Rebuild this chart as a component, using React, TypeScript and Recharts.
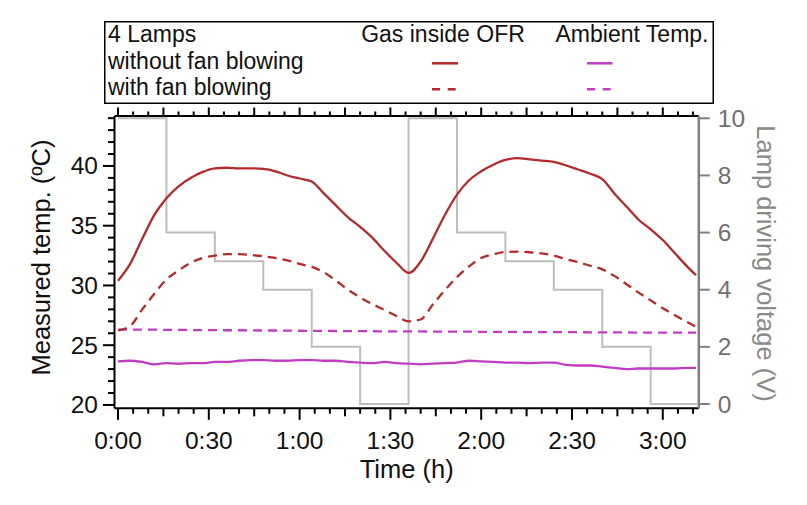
import React from 'react';
import { LineChart, Line, XAxis, YAxis, Legend } from 'recharts';

const FONT = '"Liberation Sans", Arial, Helvetica, sans-serif';
const RED = '#b52a2b';
const MAGENTA = '#c23cc4';
const LAMP_GRAY = '#bdbdbd';
const AXIS_GRAY = '#808080';

// time in minutes
const timeMin = [0, 4, 8, 12, 16, 20, 24, 28, 32, 36, 40, 44, 48, 52, 56, 60, 64, 68, 72, 76, 80, 84, 88, 92, 96, 100, 104, 108, 112, 116, 120, 124, 128, 132, 136, 140, 144, 148, 152, 156, 160, 164, 168, 172, 176, 180, 184, 188, 191];

const gasNoFan = [30.4, 31.8, 33.9, 35.9, 37.3, 38.3, 39.0, 39.5, 39.8, 39.85, 39.8, 39.8, 39.75, 39.55, 39.2, 38.95, 38.7, 37.7, 36.7, 35.7, 34.9, 34.0, 32.9, 31.9, 31.05, 32.0, 33.9, 35.9, 37.6, 38.8, 39.55, 40.1, 40.5, 40.65, 40.55, 40.45, 40.35, 40.05, 39.7, 39.35, 38.9, 37.7, 36.6, 35.5, 34.7, 33.8, 32.7, 31.6, 30.85];

const gasFan = [26.25, 26.6, 28.0, 29.3, 30.5, 31.25, 31.9, 32.3, 32.5, 32.62, 32.62, 32.55, 32.45, 32.3, 32.1, 31.8, 31.55, 31.1, 30.4, 29.65, 29.0, 28.45, 27.95, 27.45, 27.0, 27.15, 28.4, 29.6, 30.7, 31.6, 32.3, 32.6, 32.8, 32.83, 32.78, 32.68, 32.5, 32.2, 31.95, 31.65, 31.35, 30.8, 30.1, 29.4, 28.75, 28.1, 27.5, 26.95, 26.55];

const ambNoFan = [23.65, 23.7, 23.6, 23.4, 23.5, 23.45, 23.5, 23.5, 23.6, 23.6, 23.7, 23.75, 23.75, 23.7, 23.7, 23.75, 23.75, 23.7, 23.7, 23.6, 23.55, 23.5, 23.6, 23.5, 23.45, 23.4, 23.45, 23.5, 23.55, 23.7, 23.65, 23.6, 23.55, 23.55, 23.5, 23.55, 23.55, 23.35, 23.3, 23.3, 23.2, 23.1, 23.0, 23.05, 23.05, 23.05, 23.05, 23.1, 23.1];

const ambFan = [26.3, 26.3, 26.3, 26.3, 26.28, 26.28, 26.27, 26.27, 26.26, 26.25, 26.25, 26.24, 26.23, 26.23, 26.22, 26.21, 26.2, 26.2, 26.19, 26.18, 26.18, 26.17, 26.16, 26.16, 26.15, 26.15, 26.14, 26.14, 26.13, 26.13, 26.12, 26.12, 26.11, 26.11, 26.1, 26.1, 26.1, 26.09, 26.09, 26.08, 26.08, 26.07, 26.07, 26.06, 26.06, 26.06, 26.05, 26.05, 26.05];

// lamp driving voltage steps
const stepTimes = [0, 16, 32, 48, 64, 80, 96, 112, 128, 144, 160, 176, 191.3];
const lampVoltage = [10, 6, 5, 4, 2, 0, 10, 6, 5, 4, 2, 0, 0];

// ticks
const xTicks = [0, 5, 10, 15, 20, 25, 30, 35, 40, 45, 50, 55, 60, 65, 70, 75, 80, 85, 90, 95, 100, 105, 110, 115, 120, 125, 130, 135, 140, 145, 150, 155, 160, 165, 170, 175, 180, 185, 190];
const xLabelTimes = [0, 30, 60, 90, 120, 150, 180];
const xLabels = ['0:00', '0:30', '1:00', '1:30', '2:00', '2:30', '3:00'];
const tempTicks = [20, 21, 22, 23, 24, 25, 26, 27, 28, 29, 30, 31, 32, 33, 34, 35, 36, 37, 38, 39, 40, 41, 42, 43, 44];
const tempLabels = [20, 25, 30, 35, 40];
const voltTicks = [0, 2, 4, 6, 8, 10];

const tempData = timeMin.map((t, i) => ({
  t,
  gasNoFan: gasNoFan[i],
  gasFan: gasFan[i],
  ambNoFan: ambNoFan[i],
  ambFan: ambFan[i],
}));
const lampData = stepTimes.map((t, i) => ({ t, v: lampVoltage[i] }));

const W = 790;
const H = 480;
const TICK_FS = 24.5;

const BottomTick = (props: any) => {
  const { x, y, payload } = props;
  const v = payload.value;
  const len = v % 30 === 0 ? 11.5 : v % 15 === 0 ? 8 : 5.5;
  const idx = xLabelTimes.indexOf(v);
  return (
    <g>
      <line x1={x} x2={x} y1={y} y2={y + len} stroke="#000" strokeWidth={2} />
      {idx >= 0 && (
        <text x={x} y={y + 40.5} textAnchor="middle" fontSize={TICK_FS} fontFamily={FONT} fill="#111">
          {xLabels[idx]}
        </text>
      )}
    </g>
  );
};

const TopTick = (props: any) => {
  const { x, y, payload } = props;
  const v = payload.value;
  const len = v % 15 === 0 ? 8.5 : 4.5;
  return <line x1={x} x2={x} y1={y} y2={y - len} stroke="#000" strokeWidth={2} />;
};

const LeftTick = (props: any) => {
  const { x, y, payload } = props;
  const v = payload.value;
  const major = tempLabels.indexOf(v) >= 0;
  const len = major ? 11.5 : 6.5;
  return (
    <g>
      <line x1={x} x2={x - len} y1={y} y2={y} stroke="#000" strokeWidth={2} />
      {major && (
        <text x={x - 16.5} y={y + 8.5} textAnchor="end" fontSize={TICK_FS} fontFamily={FONT} fill="#111">
          {v}
        </text>
      )}
    </g>
  );
};

const RightTick = (props: any) => {
  const { x, y, payload } = props;
  return (
    <g>
      <line x1={x} x2={x + 11} y1={y} y2={y} stroke={AXIS_GRAY} strokeWidth={2} />
      <text x={x + 19} y={y + 8.5} textAnchor="start" fontSize={TICK_FS} fontFamily={FONT} fill="#707070">
        {payload.value}
      </text>
    </g>
  );
};

const XTitle = (props: any) => {
  const vb = props.viewBox || {};
  return (
    <text x={vb.x + vb.width / 2} y={470} textAnchor="middle" fontSize={25.5} fontFamily={FONT} fill="#111">
      Time (h)
    </text>
  );
};

const LeftTitle = () => (
  <text transform="translate(33,249.5) rotate(-90)" textAnchor="middle" dy="0.35em" fontSize={25.5} fontFamily={FONT} fill="#111">
    Measured temp. (ºC)
  </text>
);

const RightTitle = () => (
  <text transform="translate(758,255.5) rotate(90)" textAnchor="middle" dy="0.35em" fontSize={25.5} fontFamily={FONT} fill="#8a8a8a">
    Lamp driving voltage (V)
  </text>
);

const LegendBox = () => (
  <svg width={610} height={83} style={{ display: 'block' }}>
    <rect x={0.75} y={0.75} width={608.5} height={81.5} fill="#fff" stroke="#000" strokeWidth={1.5} />
    <g fontFamily={FONT} fontSize={23} fill="#111">
      <text x={4} y={21}>4 Lamps</text>
      <text x={4} y={47.5}>without fan blowing</text>
      <text x={4} y={73.5}>with fan blowing</text>
      <text x={339} y={21} textAnchor="middle">Gas inside OFR</text>
      <text x={528} y={21} textAnchor="middle">Ambient Temp.</text>
    </g>
    <line x1={328} x2={354} y1={42.3} y2={42.3} stroke={RED} strokeWidth={2.5} />
    <line x1={328} x2={352} y1={68.3} y2={68.3} stroke={RED} strokeWidth={2.5} strokeDasharray="8 7.7" />
    <line x1={483} x2={508.5} y1={42.3} y2={42.3} stroke={MAGENTA} strokeWidth={2.5} />
    <line x1={483} x2={507} y1={68.3} y2={68.3} stroke={MAGENTA} strokeWidth={2.5} strokeDasharray="8 7.7" />
  </svg>
);

export default function App() {
  return (
    <div style={{ width: W, height: H }}>
      <LineChart width={W} height={H} data={tempData} margin={{ top: 107, right: 9.2, bottom: 19.7, left: 0 }}>
        <XAxis
          dataKey="t"
          type="number"
          domain={[-1.16, 191.9]}
          allowDataOverflow
          ticks={xTicks}
          interval={0}
          tickSize={0}
          tickMargin={0}
          tickLine={false}
          tick={<BottomTick />}
          height={60}
          axisLine={{ stroke: '#000', strokeWidth: 2 }}
          label={<XTitle />}
        />
        <XAxis
          xAxisId="top"
          dataKey="t"
          type="number"
          orientation="top"
          domain={[-1.16, 191.9]}
          allowDataOverflow
          ticks={xTicks}
          interval={0}
          tickSize={0}
          tickMargin={0}
          tickLine={false}
          tick={<TopTick />}
          height={1}
          axisLine={{ stroke: '#000', strokeWidth: 2 }}
        />
        <YAxis
          yAxisId="left"
          type="number"
          domain={[19.72, 44.18]}
          allowDataOverflow
          ticks={tempTicks}
          interval={0}
          tickSize={0}
          tickMargin={0}
          tickLine={false}
          tick={<LeftTick />}
          width={106.5}
          axisLine={{ stroke: '#000', strokeWidth: 2 }}
          label={<LeftTitle />}
        />
        <YAxis
          yAxisId="right"
          orientation="right"
          type="number"
          domain={[-0.15, 10.08]}
          allowDataOverflow
          ticks={voltTicks}
          interval={0}
          tickSize={0}
          tickMargin={0}
          tickLine={false}
          tick={<RightTick />}
          width={90}
          axisLine={{ stroke: AXIS_GRAY, strokeWidth: 2.5 }}
          label={<RightTitle />}
        />
        <Legend
          layout="vertical"
          align="center"
          verticalAlign="middle"
          wrapperStyle={{ position: 'absolute', left: 96, top: 13, width: 610, height: 83 }}
          content={() => <LegendBox />}
        />
        <Line
          yAxisId="right"
          data={lampData}
          dataKey="v"
          name="Lamp driving voltage"
          type="stepAfter"
          stroke={LAMP_GRAY}
          strokeWidth={2}
          dot={false}
          activeDot={false}
          isAnimationActive={false}
          legendType="none"
        />
        <Line yAxisId="left" dataKey="ambFan" name="Ambient, with fan" type="monotone" stroke={MAGENTA} strokeWidth={2.3} strokeDasharray="9 6" dot={false} activeDot={false} isAnimationActive={false} />
        <Line yAxisId="left" dataKey="ambNoFan" name="Ambient, without fan" type="monotone" stroke={MAGENTA} strokeWidth={2.3} dot={false} activeDot={false} isAnimationActive={false} />
        <Line yAxisId="left" dataKey="gasFan" name="Gas inside OFR, with fan" type="monotone" stroke={RED} strokeWidth={2.3} strokeDasharray="9 6" dot={false} activeDot={false} isAnimationActive={false} />
        <Line yAxisId="left" dataKey="gasNoFan" name="Gas inside OFR, without fan" type="monotone" stroke={RED} strokeWidth={2.3} dot={false} activeDot={false} isAnimationActive={false} />
      </LineChart>
    </div>
  );
}
